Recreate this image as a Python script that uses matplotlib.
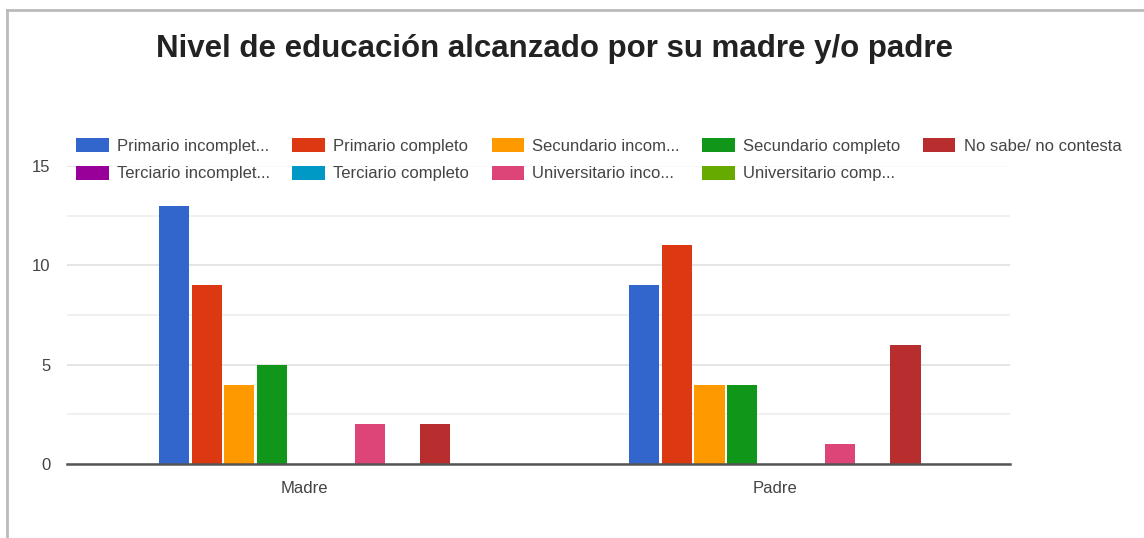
import matplotlib
matplotlib.use("Agg")
import matplotlib.pyplot as plt
import numpy as np
from matplotlib.patches import Patch
from matplotlib.lines import Line2D

plt.rcParams['font.family'] = ['Liberation Sans', 'DejaVu Sans']

categories = ["Madre", "Padre"]
series_names = ["Primario incompleto", "Primario completo", "Secundario incompleto",
                "Secundario completo", "Terciario incompleto", "Terciario completo",
                "Universitario incompleto", "Universitario completo", "No sabe/ no contesta"]
legend_labels = ["Primario incomplet...", "Primario completo", "Secundario incom...",
                 "Secundario completo", "Terciario incomplet...", "Terciario completo",
                 "Universitario inco...", "Universitario comp...", "No sabe/ no contesta"]
primario_incompleto = [13, 9]
primario_completo = [9, 11]
secundario_incompleto = [4, 4]
secundario_completo = [5, 4]
terciario_incompleto = [0, 0]
terciario_completo = [0, 0]
universitario_incompleto = [2, 1]
universitario_completo = [0, 0]
no_sabe = [2, 6]
values = [primario_incompleto, primario_completo, secundario_incompleto, secundario_completo,
          terciario_incompleto, terciario_completo, universitario_incompleto,
          universitario_completo, no_sabe]
colors = ["#3366cc", "#dc3912", "#ff9900", "#109618", "#990099",
          "#0099c6", "#dd4477", "#66aa00", "#b82e2e"]
yticks = [0, 5, 10, 15]

fig = plt.figure(figsize=(11.44, 5.38), dpi=100)
ax = fig.add_axes([67/1144, 1-464/538, (1010-67)/1144, (464-166)/538])

x = np.arange(len(categories))
n = len(series_names)
group_w = 0.625
step = group_w / n
bw = step * 0.92
for i, (name, vals, c) in enumerate(zip(series_names, values, colors)):
    pos = x - group_w/2 + step*(i+0.5)
    ax.bar(pos, vals, width=bw, color=c, linewidth=0, zorder=3, label=name)

ax.set_xlim(-0.505, 1.5)
ax.set_ylim(0, 15)
ax.set_yticks(yticks)
ax.set_yticks([2.5, 7.5, 12.5], minor=True)
ax.set_yticklabels([str(t) for t in yticks], fontsize=12, color="#444444")
ax.set_xticks(x)
ax.set_xticklabels(categories, fontsize=12, color="#444444")
ax.tick_params(axis='both', which='both', length=0)
ax.tick_params(axis='y', pad=12)
ax.tick_params(axis='x', pad=12)
ax.grid(axis='y', which='major', color="#e0e0e0", linewidth=1.2, zorder=0)
ax.grid(axis='y', which='minor', color="#eeeeee", linewidth=1.2, zorder=0)
for s in ['top', 'right', 'left']:
    ax.spines[s].set_visible(False)
ax.spines['bottom'].set_color("#555555")
ax.spines['bottom'].set_linewidth(1.8)
ax.spines['bottom'].set_zorder(4)

order = [0, 4, 1, 5, 2, 6, 3, 7, 8]
hs = [Patch(facecolor=colors[i], edgecolor='none') for i in order]
ls = [legend_labels[i] for i in order]
leg = fig.legend(hs, ls, ncol=5, loc='upper left', bbox_to_anchor=(76/1144, 1-138/538),
                 frameon=True, fontsize=12, handlelength=1.95, handleheight=0.9,
                 handletextpad=0.5, columnspacing=1.35, labelspacing=0.72,
                 borderpad=0.0, borderaxespad=0)
leg.get_frame().set_facecolor('white')
leg.get_frame().set_edgecolor('none')
for t in leg.get_texts():
    t.set_color("#444444")

fig.text(555/1144, 1-49/538, "Nivel de educación alcanzado por su madre y/o padre",
         ha='center', va='center', fontsize=22.5, fontweight='bold', color="#222222")

fig.add_artist(Line2D([7/1144, 1], [1-10/538, 1-10/538], color="#bbbbbb", linewidth=2,
                      transform=fig.transFigure))
fig.add_artist(Line2D([7/1144, 7/1144], [0, 1-10/538], color="#bbbbbb", linewidth=2,
                      transform=fig.transFigure))

fig.savefig("out.png", dpi=100, facecolor='white')
